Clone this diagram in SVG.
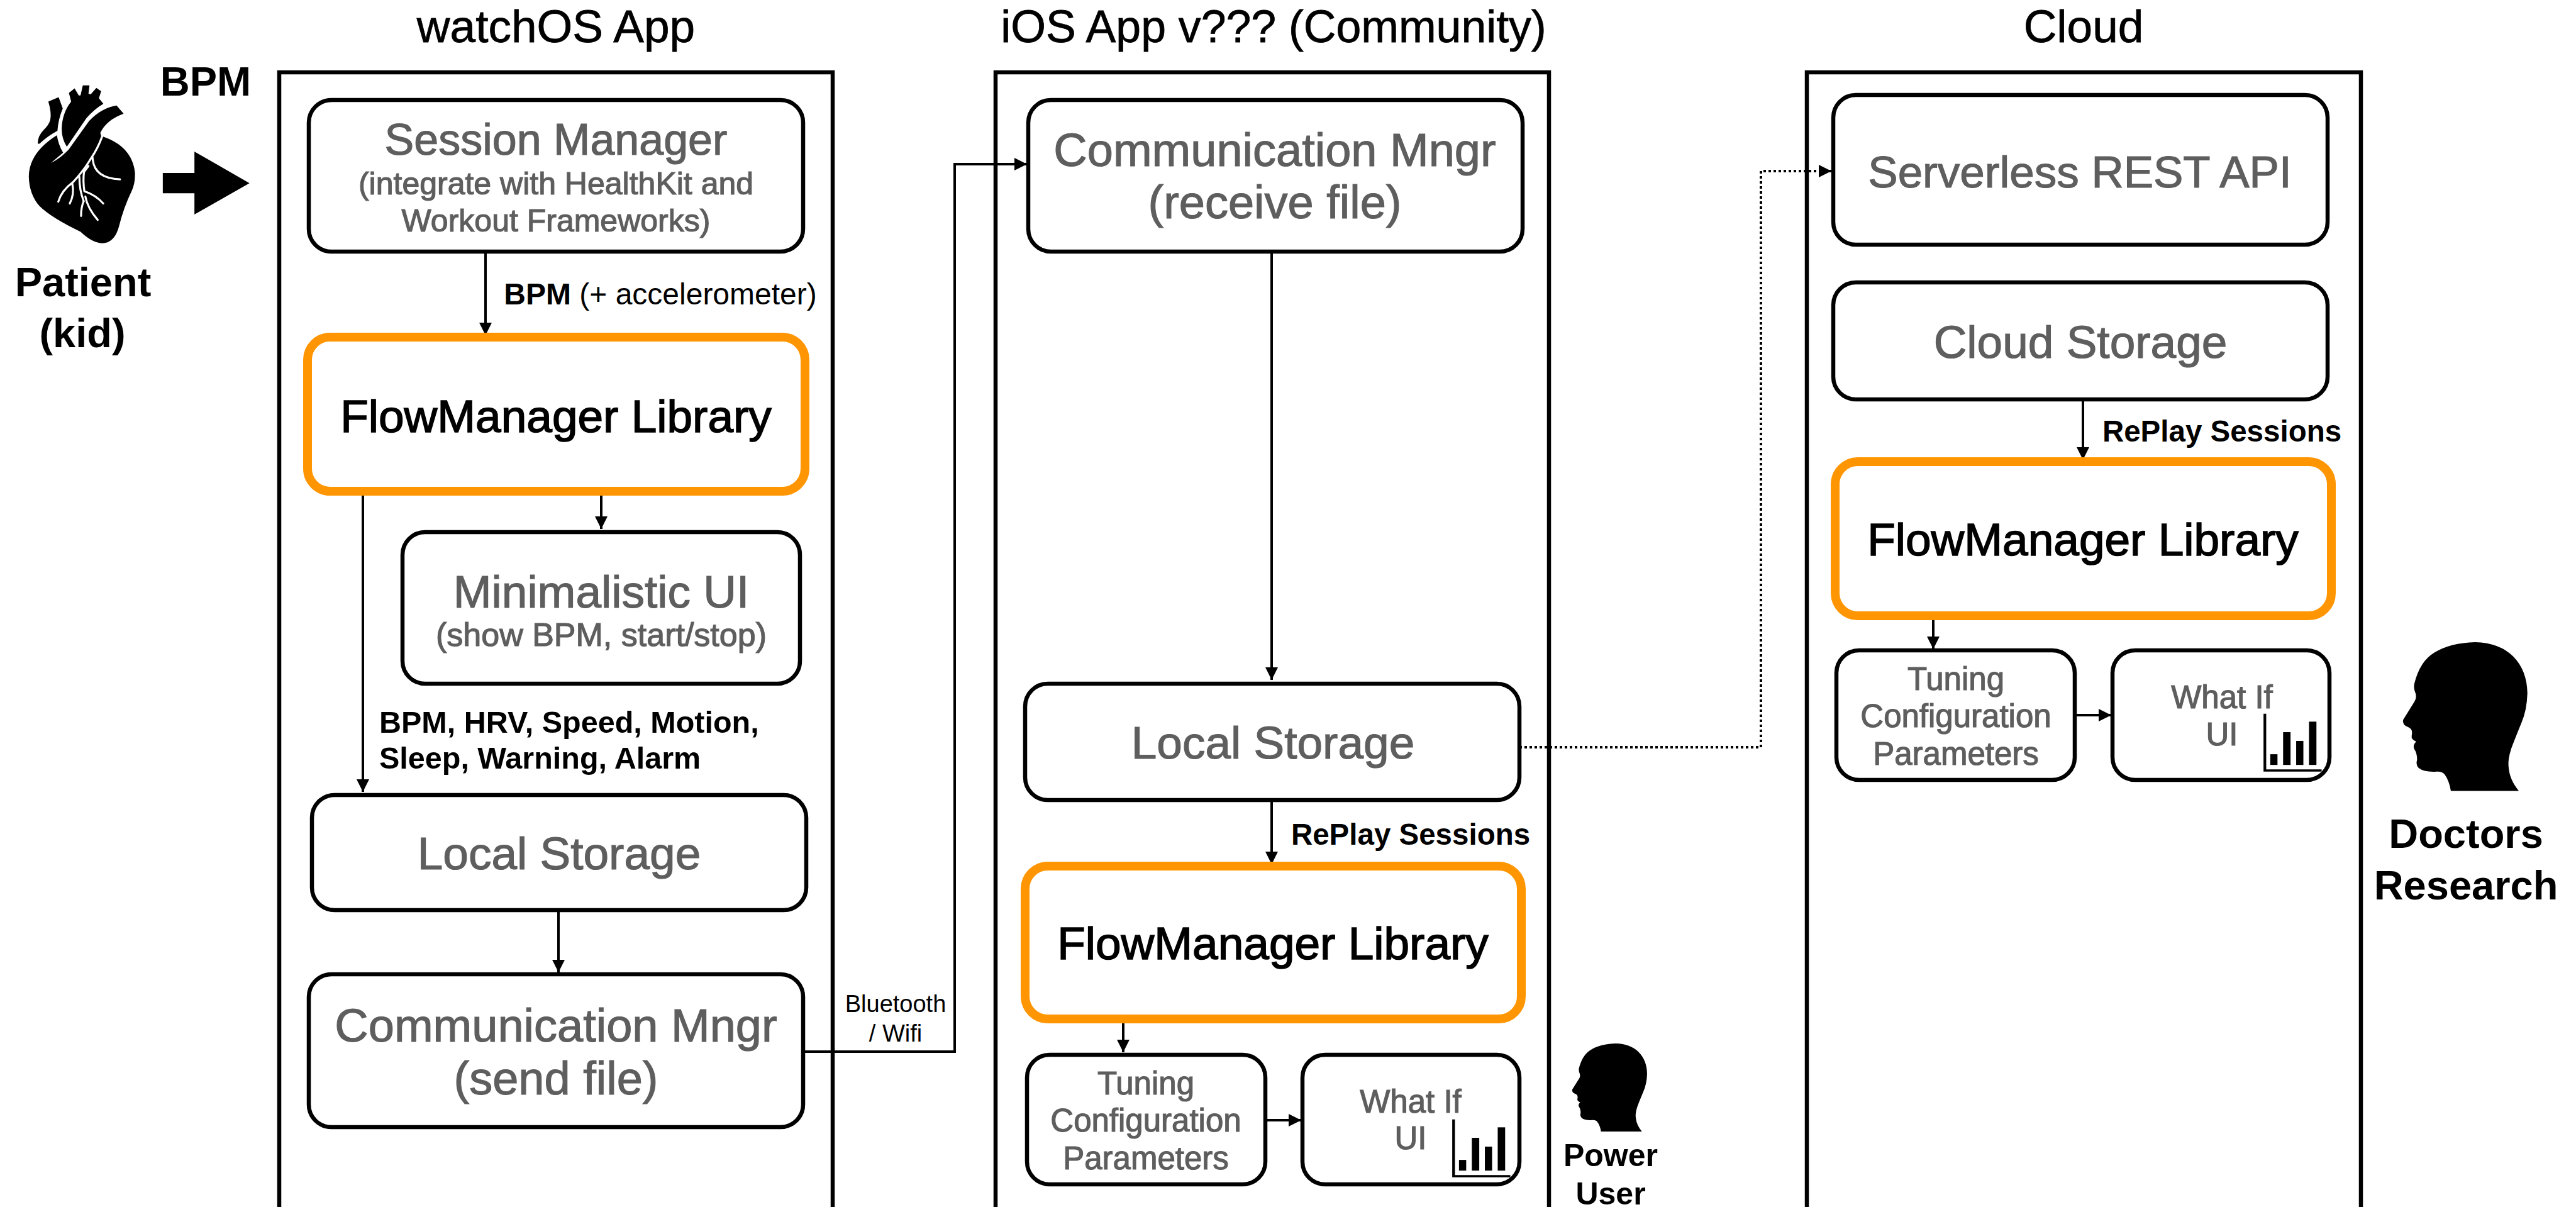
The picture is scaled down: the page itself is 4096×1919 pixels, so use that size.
<svg xmlns="http://www.w3.org/2000/svg" width="4096" height="1919" viewBox="0 0 4096 1919">
<style>
text{font-family:"Liberation Sans",Arial,sans-serif;text-anchor:middle;fill:#000}
.panel{fill:#fff;stroke:#000;stroke-width:6.5}
.box{fill:#fff;stroke:#000;stroke-width:6.5}
.flow{fill:#fff;stroke:#ff9500;stroke-width:14}
.g{fill:#5e5e5e;stroke:#5e5e5e;stroke-width:1.2}
.b{font-weight:700}
.title{font-size:73px;stroke:#000;stroke-width:.8}
.t{font-size:73px}
.big{font-size:71px}
.fl{font-size:73px;stroke:#000;stroke-width:1.6}
.sm{font-size:51px}
.bl{font-size:65px;font-weight:700}
.lb{font-size:48px;font-weight:700}
.conn{fill:none;stroke:#000;stroke-width:4;marker-end:url(#ah)}
.white{fill:none;stroke:#fff;stroke-width:3.2;stroke-linecap:round;stroke-linejoin:round;vector-effect:non-scaling-stroke}
</style>
<defs>
<marker id="ah" markerUnits="userSpaceOnUse" markerWidth="22" markerHeight="22" refX="20" refY="10" orient="auto"><path d="M0,0L20,10L0,20Z" fill="#000"/></marker>
<path id="head" d="M1012,916Q1005,870 985,840Q975,825 950,826Q895,830 870,810Q855,795 862,770Q862,740 850,722Q840,705 858,686Q835,675 838,660Q845,630 825,620Q795,610 800,585L850,500Q862,480 855,460Q845,435 850,415Q875,310 940,270Q1010,225 1120,222Q1230,225 1290,290Q1350,355 1352,460Q1350,540 1325,600Q1290,690 1280,720Q1265,770 1268,800Q1272,865 1314,916Z"/>
<g id="chart"><path d="M183,556H192V816H438V826H180V556Z"/><rect x="210" y="745" width="32" height="50"/><rect x="267" y="642" width="33" height="153"/><rect x="325" y="683" width="32" height="112"/><rect x="382" y="593" width="33" height="202"/></g>
</defs>
<rect width="4096" height="1919" fill="#fff"/>

<g id="panel-watch"><rect class="panel" x="444" y="115" width="880" height="1860"/><text class="title" x="884" y="67">watchOS App</text></g>
<g id="panel-ios"><rect class="panel" x="1583" y="115" width="880" height="1860"/><text class="title" style="font-size:71.6px" x="2025" y="67">iOS App v??? (Community)</text></g>
<g id="panel-cloud"><rect class="panel" x="2873" y="115" width="881" height="1860"/><text class="title" x="3313" y="67">Cloud</text></g>

<g id="patient">
<g transform="translate(0,82.2) scale(.2726,.3146)">
<path d="M282,252L342,230L366,287Q340,340 335,400Q280,425 230,465L220,465Q220,425 255,395Q285,370 293,345Q302,310 282,252Z"/>
<path d="M402,208L435,185L460,222L470,220L483,170L522,170L516,213L530,215L562,183L590,200L577,235L603,263Q550,290 505,335L390,480Q360,440 360,390Q362,310 415,252Z"/>
<path d="M332,422Q170,510 168,630Q170,720 230,780Q300,840 470,910Q540,968 600,968Q670,965 695,880Q720,790 770,700Q790,660 787,610Q770,480 604,430L590,425L585,410Q620,345 721,313L680,272Q590,285 520,350L400,495Q350,540 298,562L368,510Q340,470 332,422Z"/>
<path class="white" d="M596,428Q570,490 530,540Q490,600 425,660Q360,700 340,758"/>
<path class="white" d="M540,535Q545,640 700,645"/>
<path class="white" d="M516,578L490,607Q483,650 492,705Q560,725 602,767"/>
<path class="white" d="M498,732Q510,790 570,850"/>
<path class="white" d="M488,755Q472,790 473,830"/>
<path class="white" d="M463,632Q463,700 488,755"/>
<path class="white" d="M422,668Q435,720 407,767"/>
</g>
<path transform="scale(.524,.393)" d="M494,700H590V613L757,741L590,868V782H494Z"/>
<text class="bl" x="327" y="152">BPM</text>
<text class="bl" x="132" y="471">Patient</text>
<text class="bl" x="131" y="552">(kid)</text>
</g>

<g id="connectors">
<path class="conn" d="M772,400V533"/>
<path class="conn" d="M956,781V841"/>
<path class="conn" d="M577,781V1259"/>
<path class="conn" d="M888,1447V1546"/>
<path class="conn" d="M1277,1672H1518V261H1633"/>
<path class="conn" d="M2022,400V1081"/>
<path class="conn" d="M2022,1272V1374"/>
<path class="conn" d="M1786,1615V1673"/>
<path class="conn" d="M2011,1781H2069"/>
<path class="conn" style="stroke-dasharray:4 4" d="M2416,1188H2800V272H2912"/>
<path class="conn" d="M3312,635V731"/>
<path class="conn" d="M3074,975V1032"/>
<path class="conn" d="M3299,1137H3357"/>
</g>

<g id="w-session"><rect class="box" x="491" y="159" width="786" height="241" rx="36"/><text class="g" style="font-size:70px" x="884" y="246">Session Manager</text><text class="g" style="font-size:50px" x="884" y="309">(integrate with HealthKit and</text><text class="g" style="font-size:50px" x="884" y="368">Workout Frameworks)</text></g>
<text x="1050" y="484" style="font-size:48px"><tspan class="b">BPM</tspan> (+ accelerometer)</text>
<g id="w-flow"><rect class="flow" x="489" y="536" width="791" height="245" rx="36"/><text class="fl" x="884" y="687">FlowManager Library</text></g>
<g id="w-ui"><rect class="box" x="640" y="846" width="632" height="241" rx="36"/><text class="g" style="font-size:73px" x="956" y="966">Minimalistic UI</text><text class="g" style="font-size:52px" x="956" y="1027">(show BPM, start/stop)</text></g>
<text class="lb" style="font-size:48.5px;text-anchor:start" x="603" y="1165">BPM, HRV, Speed, Motion,</text>
<text class="lb" style="font-size:48.5px;text-anchor:start" x="603" y="1222">Sleep, Warning, Alarm</text>
<g id="w-local"><rect class="box" x="496" y="1264" width="786" height="183" rx="36"/><text class="g t" x="889" y="1382">Local Storage</text></g>
<g id="w-comm"><rect class="box" x="491" y="1549" width="786" height="243" rx="36"/><text class="g" style="font-size:74px" x="884" y="1656">Communication Mngr</text><text class="g" style="font-size:74px" x="884" y="1740">(send file)</text></g>
<text style="font-size:38px" x="1424" y="1609">Bluetooth</text><text style="font-size:38px" x="1424" y="1656">/ Wifi</text>

<g id="i-comm"><rect class="box" x="1635" y="159" width="786" height="241" rx="36"/><text class="g" style="font-size:74px" x="2027" y="264">Communication Mngr</text><text class="g" style="font-size:74px" x="2027" y="347">(receive file)</text></g>
<g id="i-local"><rect class="box" x="1630" y="1087" width="786" height="185" rx="36"/><text class="g t" x="2024" y="1206">Local Storage</text></g>
<text class="lb" style="font-size:47.5px" x="2243" y="1343">RePlay Sessions</text>
<g id="i-flow"><rect class="flow" x="1630" y="1377" width="789" height="243" rx="36"/><text class="fl" x="2024" y="1525">FlowManager Library</text></g>
<g id="i-tuning"><rect class="box" x="1633" y="1677" width="379" height="206" rx="36"/><text class="g sm" x="1822" y="1740">Tuning</text><text class="g sm" x="1822" y="1799">Configuration</text><text class="g sm" x="1822" y="1859">Parameters</text></g>
<g id="i-whatif"><rect class="box" x="2071" y="1677" width="345" height="206" rx="36"/><text class="g sm" x="2243" y="1769">What If</text><text class="g sm" x="2243" y="1827">UI</text><use href="#chart" transform="translate(2244.7,1590.3) scale(.358,.3407)"/></g>
<g id="power-user"><use href="#head" transform="translate(2327.5,1614.2) scale(.2156,.2017)"/><text class="b" style="font-size:50px" x="2561" y="1854">Power</text><text class="b" style="font-size:50px" x="2561" y="1915">User</text></g>

<g id="c-api"><rect class="box" x="2915" y="151" width="786" height="238" rx="36"/><text class="g big" x="3307" y="298">Serverless REST API</text></g>
<g id="c-storage"><rect class="box" x="2915" y="449" width="786" height="186" rx="36"/><text class="g t" x="3308" y="569">Cloud Storage</text></g>
<text class="lb" style="font-size:47.5px" x="3533" y="702">RePlay Sessions</text>
<g id="c-flow"><rect class="flow" x="2918" y="734" width="789" height="245" rx="36"/><text class="fl" x="3312" y="883">FlowManager Library</text></g>
<g id="c-tuning"><rect class="box" x="2920" y="1034" width="379" height="206" rx="36"/><text class="g sm" x="3110" y="1097">Tuning</text><text class="g sm" x="3110" y="1156">Configuration</text><text class="g sm" x="3110" y="1216">Parameters</text></g>
<g id="c-whatif"><rect class="box" x="3359" y="1034" width="345" height="206" rx="36"/><text class="g sm" x="3533" y="1126">What If</text><text class="g sm" x="3533" y="1185">UI</text><use href="#chart" transform="translate(3534.7,945.3) scale(.358,.3407)"/></g>
<g id="doctors"><use href="#head" transform="translate(3534.7,945.3) scale(.358,.3407)"/><text class="bl" x="3921" y="1348">Doctors</text><text class="bl" x="3921" y="1430">Research</text></g>
</svg>
